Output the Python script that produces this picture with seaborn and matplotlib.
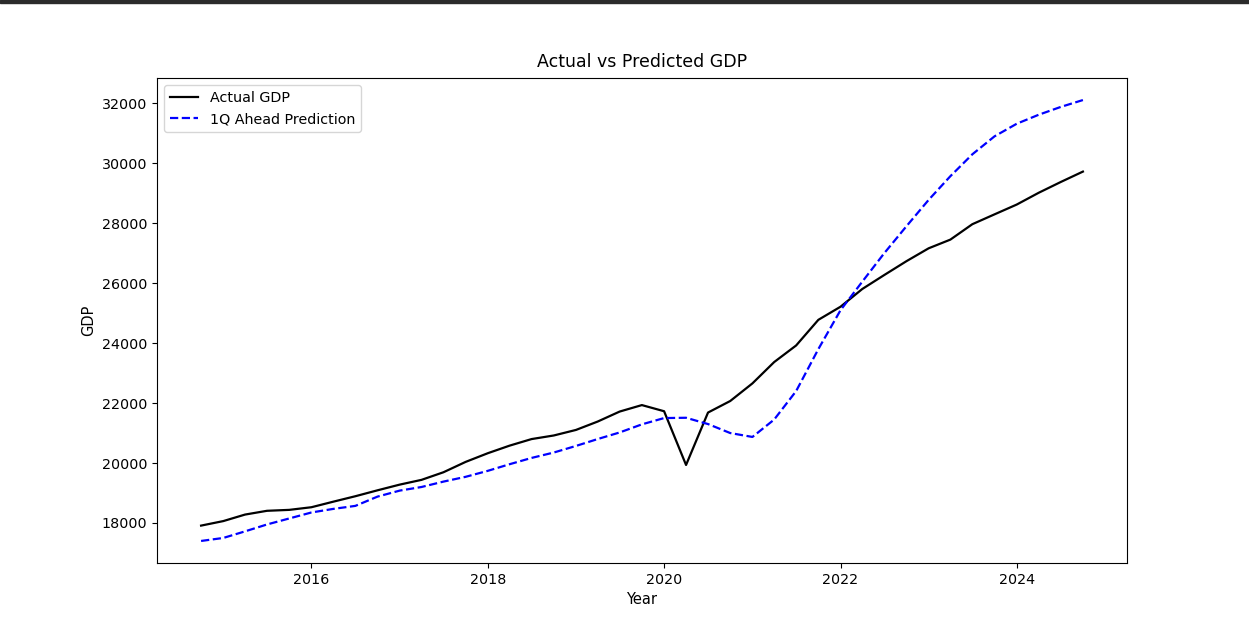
import numpy as np
import pandas as pd
import matplotlib
matplotlib.use("Agg")
import matplotlib.pyplot as plt
import matplotlib.dates as mdates
import seaborn as sns

# Quarterly GDP (billions), 2014Q4 - 2024Q4
quarters = pd.date_range("2014-10-01", periods=41, freq="QS")

actual_gdp = [
    17912, 18063, 18280, 18406, 18437, 18525, 18711, 18892, 19090, 19280,
    19438, 19692, 20038, 20328, 20580, 20799, 20919, 21104, 21384, 21717,
    21933, 21728, 19935, 21684, 22069, 22657, 23368, 23922, 24777, 25215,
    25806, 26272, 26734, 27164, 27454, 27968, 28297, 28624, 29017, 29375,
    29723,
]

predicted_gdp = [
    17400, 17500, 17720, 17950, 18150, 18350, 18470, 18570, 18880, 19080,
    19200, 19380, 19540, 19740, 19960, 20170, 20350, 20570, 20800, 21020,
    21290, 21500, 21510, 21300, 21000, 20870, 21450, 22400, 23800, 25100,
    26050, 27000, 27900, 28780, 29570, 30300, 30900, 31320, 31620, 31880,
    32110,
]

df = pd.DataFrame({
    "Year": quarters,
    "Actual GDP": actual_gdp,
    "1Q Ahead Prediction": predicted_gdp,
})

W, H = 1249, 630
fig = plt.figure(figsize=(W / 100, H / 100), dpi=100)
fig.patch.set_facecolor("white")

# top dark rule
fig.add_artist(plt.Rectangle((0, 1 - 3 / H), 1, 3 / H, transform=fig.transFigure,
                             color="#2b2b2b", zorder=0))

ax = fig.add_axes([157 / W, (H - 563) / H, 970 / W, 485 / H])

sns.lineplot(data=df, x="Year", y="Actual GDP", ax=ax, color="black",
             label="Actual GDP", linewidth=1.6)
sns.lineplot(data=df, x="Year", y="1Q Ahead Prediction", ax=ax, color="blue",
             linestyle="--", label="1Q Ahead Prediction", linewidth=1.6)

ax.set_title("Actual vs Predicted GDP", fontsize=12.5, pad=8)
ax.set_xlabel("Year", fontsize=10.5)
ax.set_ylabel("GDP", fontsize=10.5)
ax.tick_params(labelsize=10.3)

ax.xaxis.set_major_locator(mdates.YearLocator(2))
ax.xaxis.set_major_formatter(mdates.DateFormatter("%Y"))
ax.set_yticks(np.arange(18000, 32001, 2000))

ax.legend(loc="upper left", fontsize=10.3)

fig.savefig("out.png", dpi=100)
